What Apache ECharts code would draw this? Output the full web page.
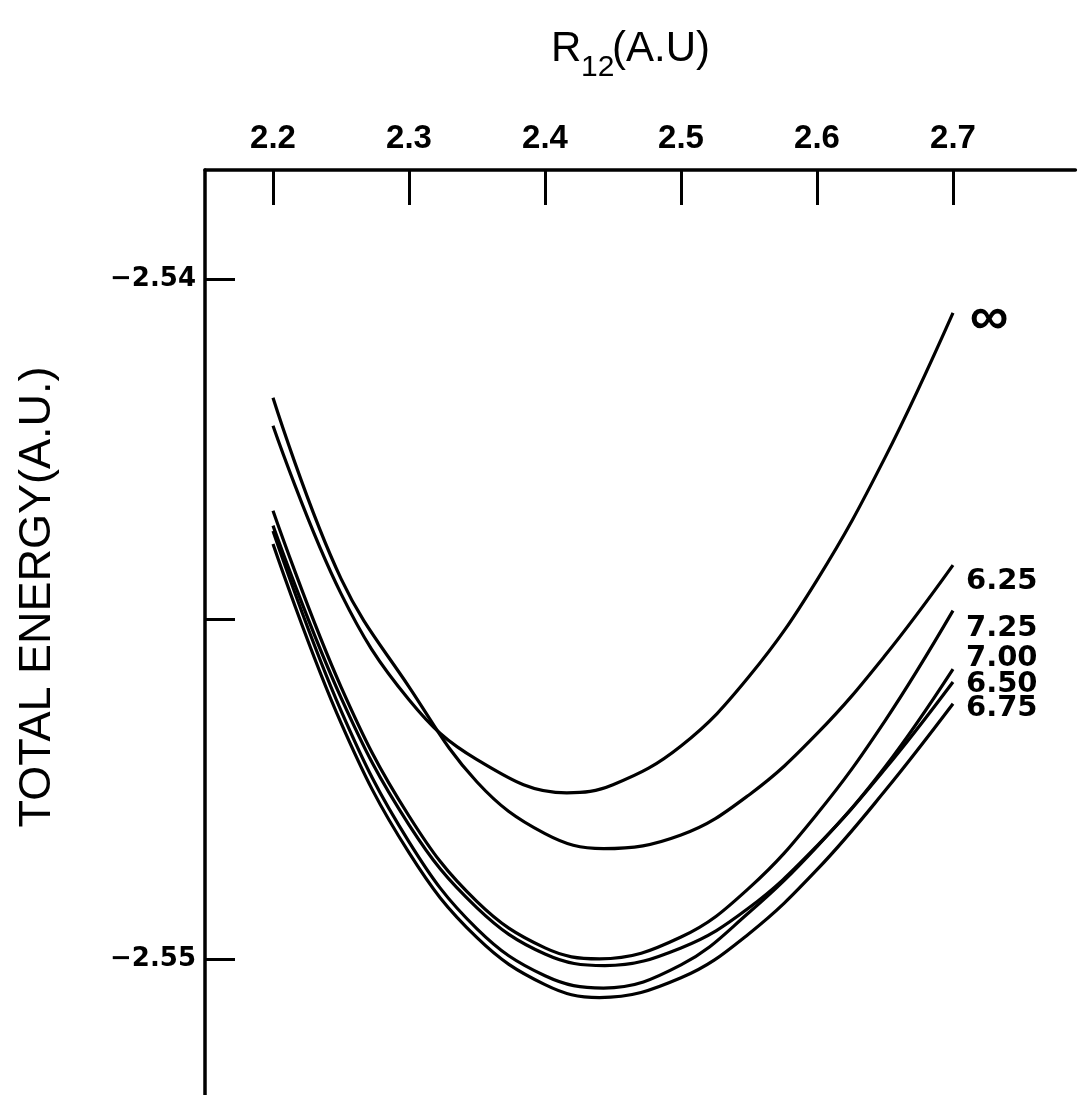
<!DOCTYPE html>
<html><head><meta charset="utf-8">
<script src="https://cdn.jsdelivr.net/npm/echarts@6/dist/echarts.min.js"></script>
<style>html,body{margin:0;padding:0;background:#fff}#c{width:1078px;height:1095px}</style>
</head><body><div id="c"></div>
<script>
// ---- data ----
const curveNames = ['\u221E', '6.25', '7.25', '6.50', '7.00', '6.75'];
const rInf = [2.20, 2.25, 2.30, 2.35, 2.416, 2.45, 2.50, 2.55, 2.60, 2.65, 2.70];
const eInf = [-2.54216, -2.54463, -2.54619, -2.54707, -2.54756, -2.54744, -2.54687, -2.54585, -2.54443, -2.54263, -2.54050];
const r625 = [2.20, 2.25, 2.30, 2.35, 2.40, 2.443, 2.50, 2.55, 2.60, 2.65, 2.70];
const e625 = [-2.54175, -2.54441, -2.54600, -2.54740, -2.54816, -2.54838, -2.54818, -2.54759, -2.54669, -2.54554, -2.54421];
const r725 = [2.20, 2.25, 2.30, 2.35, 2.40, 2.44, 2.50, 2.55, 2.60, 2.65, 2.70];
const e725 = [-2.54341, -2.54600, -2.54790, -2.54916, -2.54984, -2.55000, -2.54968, -2.54896, -2.54787, -2.54650, -2.54488];
const r650 = [2.20, 2.25, 2.30, 2.35, 2.40, 2.444, 2.50, 2.55, 2.60, 2.65, 2.70];
const e650 = [-2.54363, -2.54616, -2.54803, -2.54925, -2.54993, -2.55010, -2.54984, -2.54925, -2.54834, -2.54721, -2.54593];
const r700 = [2.20, 2.25, 2.30, 2.35, 2.40, 2.443, 2.50, 2.55, 2.60, 2.65, 2.70];
const e700 = [-2.54371, -2.54635, -2.54828, -2.54956, -2.55025, -2.55043, -2.55009, -2.54932, -2.54835, -2.54718, -2.54574];
const r675 = [2.20, 2.25, 2.30, 2.35, 2.40, 2.44, 2.50, 2.55, 2.60, 2.65, 2.70];
const e675 = [-2.54390, -2.54653, -2.54844, -2.54969, -2.55038, -2.55057, -2.55028, -2.54963, -2.54869, -2.54753, -2.54625];
const xTickValues = [2.2, 2.3, 2.4, 2.5, 2.6, 2.7];
const yTickValues = [-2.54, -2.545, -2.55];
const yLabelValues = [-2.54, -2.55];
const xTitleMain = 'R', xTitleSub = '12', xTitleUnit = '(A.U)';
const yTitle = 'TOTAL ENERGY(A.U.)';

// ---- styles ----
const seriesR = [rInf, r625, r725, r650, r700, r675];
const seriesE = [eInf, e625, e725, e650, e700, e675];
const labelOffsets = [[0, 0], [9, 16], [9, 18], [9, 2], [9, -11], [9, 5]];

const chart = echarts.init(document.getElementById('c'), null, {renderer: 'canvas'});
const series = curveNames.map((name, k) => ({
  name: name,
  type: 'line',
  smooth: 0.4,
  showSymbol: false,
  symbol: 'none',
  clip: false,
  lineStyle: {color: '#000', width: 3.2},
  data: seriesR[k].map((r, i) => [r, seriesE[k][i]]),
  endLabel: {
    show: k > 0,
    formatter: () => name,
    color: '#000',
    fontFamily: 'DejaVu Sans',
    fontWeight: 'bold',
    fontSize: 29,
    offset: labelOffsets[k],
    distance: 4
  }
}));

const baseGraphic = [
  {type: 'text', x: 551, y: 70, style: {text: xTitleMain, fill: '#000', font: '42px "Liberation Sans"', verticalAlign: 'bottom'}},
  {type: 'text', x: 581, y: 83, style: {text: xTitleSub, fill: '#000', font: '30px "Liberation Sans"', verticalAlign: 'bottom'}},
  {type: 'text', x: 612, y: 70, style: {text: xTitleUnit, fill: '#000', font: '42px "Liberation Sans"', verticalAlign: 'bottom'}},
  {type: 'text', x: 38, y: 597, rotation: Math.PI / 2,
    style: {text: yTitle, fill: '#000', font: '45px "Liberation Sans"', align: 'center', verticalAlign: 'middle'}}
];

chart.setOption({
  animation: false,
  backgroundColor: '#fff',
  grid: {left: 205, top: 170, width: 870.4, height: 924.8, containLabel: false},
  xAxis: {
    type: 'value', position: 'top', min: 2.15, max: 2.79,
    axisLine: {show: true, onZero: false, lineStyle: {color: '#000', width: 3.5}},
    axisTick: {show: true, inside: true, length: 35, customValues: xTickValues, lineStyle: {color: '#000', width: 3}},
    axisLabel: {show: true, customValues: xTickValues, margin: 15, color: '#000',
      fontFamily: 'Liberation Sans', fontWeight: 'bold', fontSize: 33,
      formatter: v => v.toFixed(1)},
    splitLine: {show: false}
  },
  yAxis: {
    type: 'value', min: -2.552, max: -2.5384,
    axisLine: {show: true, onZero: false, lineStyle: {color: '#000', width: 3.5}},
    axisTick: {show: true, inside: true, length: 30, customValues: yTickValues, lineStyle: {color: '#000', width: 3}},
    axisLabel: {show: true, customValues: yLabelValues, margin: 9, color: '#000',
      fontFamily: 'DejaVu Sans', fontWeight: 'bold', fontSize: 26,
      formatter: v => '\u2212' + Math.abs(v).toFixed(2)},
    splitLine: {show: false}
  },
  graphic: baseGraphic,
  series: series
});

// label for the infinity curve, placed next to its last point
const lastInf = [rInf[rInf.length - 1], eInf[eInf.length - 1]];
const pInf = chart.convertToPixel({gridIndex: 0}, lastInf);
chart.setOption({
  graphic: baseGraphic.concat([
    {type: 'text', x: pInf[0] + 36, y: pInf[1] + 6,
      style: {text: curveNames[0], fill: '#000', font: 'bold 54px "Liberation Sans"', align: 'center', verticalAlign: 'middle'}}
  ])
});
</script>
</body></html>
